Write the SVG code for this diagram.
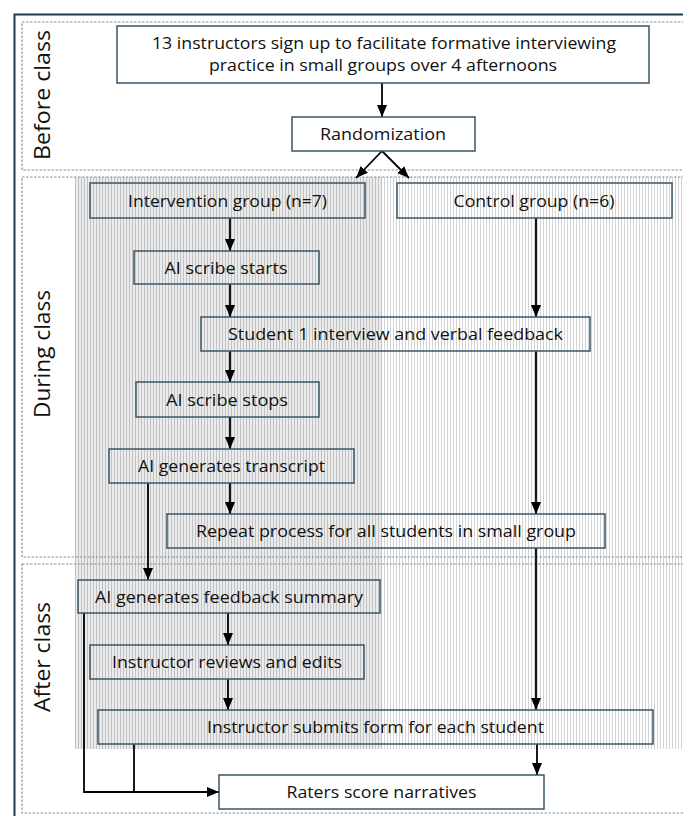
<svg xmlns="http://www.w3.org/2000/svg" width="683" height="816" viewBox="0 0 683 816">
<style>
.node rect{stroke:#3d5463;stroke-width:1.5}
.w{fill:#ffffff}
.t{fill:none}
text{font-family:"Open Sans","Liberation Sans",Arial,sans-serif;fill:#111;}
.nt{font-size:17px;text-anchor:middle}
.sec{font-size:22px;text-anchor:middle}
.sect{fill:none;stroke:#8494a2;stroke-width:1.2;stroke-dasharray:2.5 1.5}
.c{fill:none;stroke:#000;stroke-width:1.8}
.a{marker-end:url(#ah)}
</style>
<defs>
<pattern id="pL" width="3" height="10" patternUnits="userSpaceOnUse">
<rect width="3" height="10" fill="#ebebeb"/>
<rect x="0" width="1" height="10" fill="#c2c2c2"/>
</pattern>
<pattern id="pR" width="3" height="10" patternUnits="userSpaceOnUse">
<rect width="3" height="10" fill="#ffffff"/>
<rect x="0" width="1" height="10" fill="#d2d2d2"/>
</pattern>
<marker id="ah" markerUnits="userSpaceOnUse" markerWidth="13" markerHeight="11" refX="12" refY="5.5" orient="auto">
<path d="M0,0.5 L12,5.5 L0,10.5 z" fill="#000"/>
</marker>
</defs>
<rect width="683" height="816" fill="#fff"/>
<g id="background">
<rect x="75" y="177" width="307" height="572" fill="url(#pL)"/>
<rect x="382" y="177" width="301" height="572" fill="url(#pR)"/>
</g>
<g id="frame">
<path d="M14.5,816 V14.5 H683" fill="none" stroke="#1f3a4a" stroke-width="2"/>
</g>
<g id="sections">
<rect class="sect" x="22" y="22" width="700" height="148"/>
<rect class="sect" x="22" y="177" width="700" height="380"/>
<rect class="sect" x="22" y="564" width="700" height="249"/>
<text class="sec" transform="translate(50,95) rotate(-90)" textLength="130" lengthAdjust="spacingAndGlyphs">Before class</text>
<text class="sec" transform="translate(50,354) rotate(-90)" textLength="128" lengthAdjust="spacingAndGlyphs">During class</text>
<text class="sec" transform="translate(50,657) rotate(-90)" textLength="110" lengthAdjust="spacingAndGlyphs">After class</text>
</g>
<g id="connectors">
<line class="c a" x1="382" y1="83" x2="382" y2="117"/>
<line class="c a" x1="382" y1="151" x2="356" y2="178"/>
<line class="c a" x1="382" y1="151" x2="409" y2="178"/>
<line class="c a" x1="230" y1="218" x2="230" y2="251"/>
<line class="c a" x1="230" y1="284" x2="230" y2="317"/>
<line class="c a" x1="536" y1="218" x2="536" y2="317"/>
<line class="c a" x1="230" y1="351" x2="230" y2="382"/>
<line class="c a" x1="536" y1="351" x2="536" y2="514"/>
<line class="c a" x1="230" y1="417" x2="230" y2="449"/>
<line class="c a" x1="230" y1="483" x2="230" y2="514"/>
<line class="c a" x1="148" y1="483" x2="148" y2="580"/>
<line class="c a" x1="536" y1="548" x2="536" y2="710"/>
<line class="c a" x1="228" y1="613" x2="228" y2="645"/>
<line class="c a" x1="228" y1="679" x2="228" y2="710"/>
<line class="c a" x1="537" y1="744" x2="537" y2="775"/>
<path class="c a" d="M84,613 V792 H219"/>
<line class="c" x1="134" y1="744" x2="134" y2="792"/>
</g>
<g id="n1" class="node">
<rect class="w" x="117" y="26" width="532" height="57"/>
<text class="nt" x="384" y="49" textLength="464" lengthAdjust="spacingAndGlyphs">13 instructors sign up to facilitate formative interviewing</text>
<text class="nt" x="383" y="71" textLength="348" lengthAdjust="spacingAndGlyphs">practice in small groups over 4 afternoons</text>
</g>
<g id="n2" class="node">
<rect class="w" x="292" y="117" width="183" height="34"/>
<text class="nt" x="383" y="140" textLength="126" lengthAdjust="spacingAndGlyphs">Randomization</text>
</g>
<g id="n3" class="node">
<rect class="t" x="90" y="183" width="275" height="35"/>
<text class="nt" x="227.5" y="206.5" textLength="199" lengthAdjust="spacingAndGlyphs">Intervention group (n=7)</text>
</g>
<g id="n4" class="node">
<rect class="t" x="397" y="183" width="275" height="35"/>
<text class="nt" x="534" y="206.5" textLength="161" lengthAdjust="spacingAndGlyphs">Control group (n=6)</text>
</g>
<g id="n5" class="node">
<rect class="t" x="134" y="251" width="185" height="33"/>
<text class="nt" x="226" y="274" textLength="123" lengthAdjust="spacingAndGlyphs">AI scribe starts</text>
</g>
<g id="n6" class="node">
<rect class="t" x="201" y="317" width="389" height="34"/>
<text class="nt" x="395.5" y="340" textLength="335" lengthAdjust="spacingAndGlyphs">Student 1 interview and verbal feedback</text>
</g>
<g id="n7" class="node">
<rect class="t" x="136" y="382" width="183" height="35"/>
<text class="nt" x="227" y="405.5" textLength="122" lengthAdjust="spacingAndGlyphs">AI scribe stops</text>
</g>
<g id="n8" class="node">
<rect class="t" x="109" y="449" width="245" height="34"/>
<text class="nt" x="231.5" y="472" textLength="187" lengthAdjust="spacingAndGlyphs">AI generates transcript</text>
</g>
<g id="n9" class="node">
<rect class="t" x="167" y="514" width="438" height="34"/>
<text class="nt" x="386" y="537" textLength="380" lengthAdjust="spacingAndGlyphs">Repeat process for all students in small group</text>
</g>
<g id="n10" class="node">
<rect class="t" x="78" y="580" width="302" height="33"/>
<text class="nt" x="229" y="603" textLength="268" lengthAdjust="spacingAndGlyphs">AI generates feedback summary</text>
</g>
<g id="n11" class="node">
<rect class="t" x="90" y="645" width="274" height="34"/>
<text class="nt" x="227" y="668" textLength="230" lengthAdjust="spacingAndGlyphs">Instructor reviews and edits</text>
</g>
<g id="n12" class="node">
<rect class="t" x="98" y="710" width="555" height="34"/>
<text class="nt" x="375.5" y="733" textLength="337" lengthAdjust="spacingAndGlyphs">Instructor submits form for each student</text>
</g>
<g id="n13" class="node">
<rect class="w" x="219" y="775" width="325" height="34"/>
<text class="nt" x="381.5" y="798" textLength="190" lengthAdjust="spacingAndGlyphs">Raters score narratives</text>
</g>
</svg>
